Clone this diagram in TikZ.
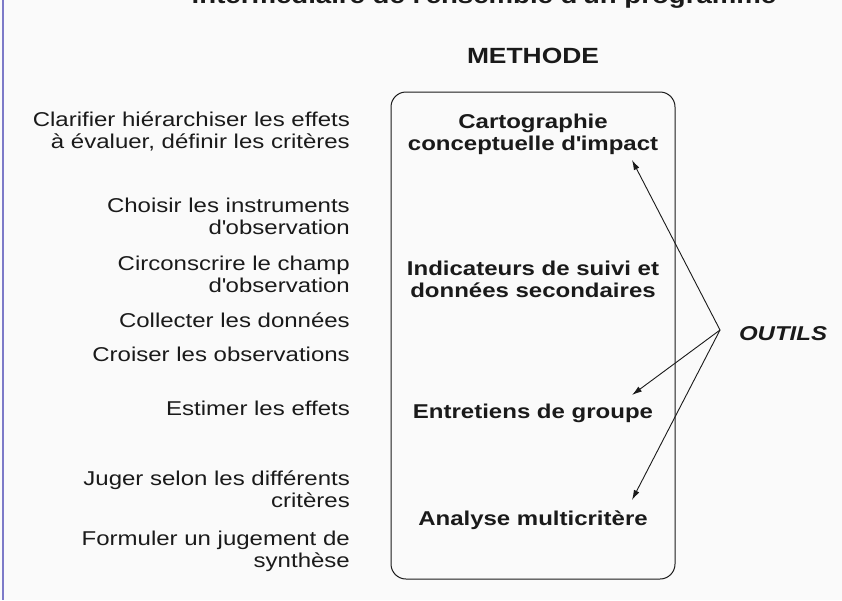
\documentclass[tikz,border=0pt]{standalone}
\usepackage{fontspec}
\setmainfont{Liberation Sans}[FakeStretch=1.2]
\usetikzlibrary{arrows.meta}
\definecolor{pagebg}{HTML}{FAFAFA}
\definecolor{margin}{HTML}{7C7AC8}
\definecolor{ink}{HTML}{1A1A1A}
\newcommand{\apos}{\textquotesingle}
\tikzset{
  % multi-line nodes sit on the baseline of their last line
  step text/.style={anchor=base east, align=right, inner sep=0pt, text=ink,
    font=\fontsize{20}{22}\selectfont},
  tool text/.style={anchor=base, align=center, inner sep=0pt, text=ink,
    font=\bfseries\fontsize{20}{22}\selectfont},
  tool arrow/.style={draw=ink, line width=0.9pt, -{Latex[length=10pt,width=6pt]}},
}
\begin{document}
\begin{tikzpicture}[x=1pt,y=-1pt]
  % page
  \fill[pagebg] (0,0) rectangle (842,600);
  \useasboundingbox (0,0) rectangle (842,600);
  \draw[margin, line width=1.6pt] (3,0) -- (3,600);

  % running title, cut by the top edge
  \begin{scope}
    \clip (0,0) rectangle (842,600);
    \node[anchor=base, inner sep=0pt, text=ink, font=\bfseries\fontsize{23}{26}\selectfont]
      (title) at (484,3) {intermédiaire de l\apos ensemble d\apos un programme};
  \end{scope}

  % method column
  \node[anchor=base, inner sep=0pt, text=ink, font=\bfseries\fontsize{22}{24}\selectfont]
    (methode) at (533,63) {METHODE};
  \draw[ink, line width=1pt, rounded corners=15pt] (391,92) rectangle (675,579);

  \node[tool text] (carto)   at (533,150) {Cartographie\\conceptuelle d\apos impact};
  \node[tool text] (indic)   at (533,297) {Indicateurs de suivi et\\données secondaires};
  \node[tool text] (entret)  at (533,418) {Entretiens de groupe};
  \node[tool text] (analyse) at (533,525) {Analyse multicritère};

  % evaluation steps
  \node[step text] (clarifier)    at (350,148) {Clarifier hiérarchiser les effets\\à évaluer, définir les critères};
  \node[step text] (choisir)      at (350,234) {Choisir les instruments\\d\apos observation};
  \node[step text] (circonscrire) at (350,292) {Circonscrire le champ\\d\apos observation};
  \node[step text] (collecter)    at (350,327) {Collecter les données};
  \node[step text] (croiser)      at (350,361) {Croiser les observations};
  \node[step text] (estimer)      at (350,415) {Estimer les effets};
  \node[step text] (juger)        at (350,507) {Juger selon les différents\\critères};
  \node[step text] (formuler)     at (350,567) {Formuler un jugement de\\synthèse};

  % tools
  \node[anchor=base, inner sep=0pt, text=ink, font=\bfseries\itshape\fontsize{20}{22}\selectfont]
    (outils) at (783,340) {OUTILS};
  \coordinate (hub) at (720,330);
  \coordinate (to carto)   at (632,160);
  \coordinate (to entret)  at (632,395);
  \coordinate (to analyse) at (632,500);
  \draw[tool arrow] (hub) -- (to carto);
  \draw[tool arrow] (hub) -- (to entret);
  \draw[tool arrow] (hub) -- (to analyse);
\end{tikzpicture}
\end{document}
